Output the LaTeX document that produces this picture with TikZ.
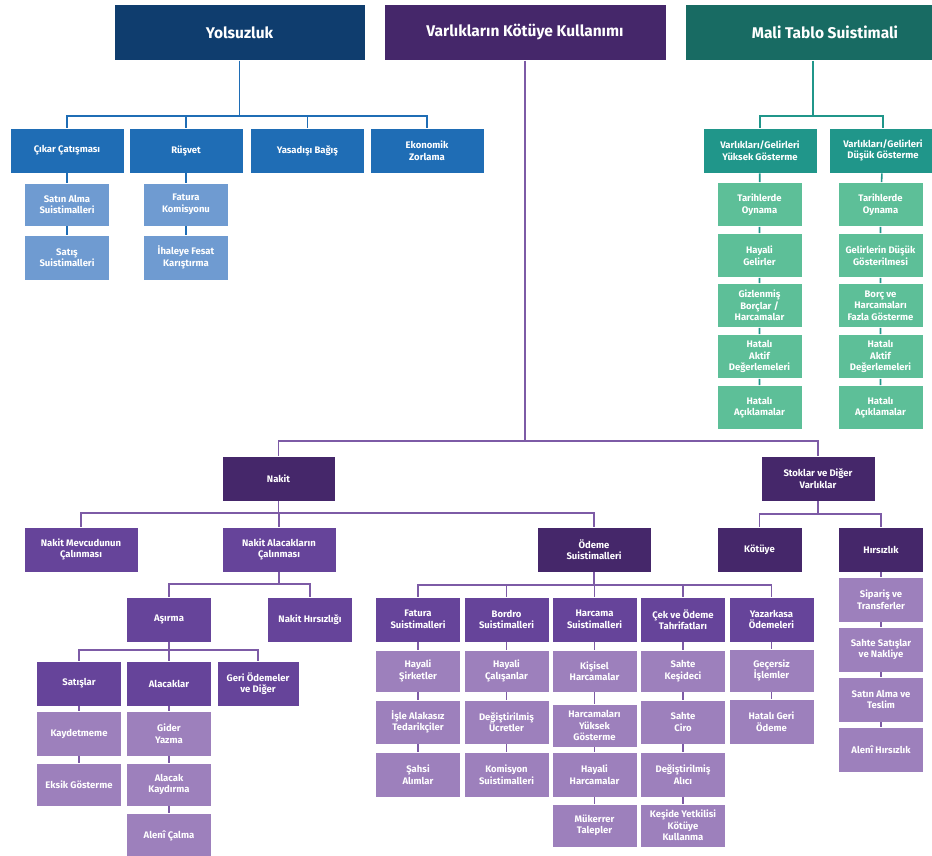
\documentclass[tikz,border=0pt]{standalone}
\usepackage{fontspec}
\setmainfont{Fira Sans}
\usetikzlibrary{positioning}
\definecolor{yolnavy}{HTML}{0F3D6E}
\definecolor{yolblue}{HTML}{1F6DB5}
\definecolor{yollight}{HTML}{6F9BD1}
\definecolor{vardark}{HTML}{45276A}
\definecolor{varmid}{HTML}{66449A}
\definecolor{varlight}{HTML}{9D80BC}
\definecolor{varline}{HTML}{7D5BA6}
\definecolor{maldark}{HTML}{186B63}
\definecolor{malteal}{HTML}{20968A}
\definecolor{malgreen}{HTML}{5DBF98}
\tikzset{
  box/.style={rectangle, draw=white, line width=0.8pt, text=white, align=center,
    inner sep=1pt, font=\bfseries\fontsize{9.5}{11.5}\selectfont},
  head/.style={box, minimum height=56pt, font=\bfseries\fontsize{15.5}{18}\selectfont},
  wide/.style={box, minimum width=114pt, minimum height=45pt},
  narrow/.style={box, minimum width=85pt, minimum height=44pt},
  link/.style={line width=1.6pt},
}
\begin{document}
\begin{tikzpicture}[x=1pt, y=-1pt]
\useasboundingbox (0,0) rectangle (932,856);
\clip (0,0) rectangle (932,856);
% the three main branches
\node[head, fill=yolnavy, minimum width=251pt] (yol) at (239.5,32.5) {Yolsuzluk};
\node[head, fill=vardark, minimum width=282pt] (var) at (525,32.5) {Varlıkların Kötüye Kullanımı};
\node[head, fill=maldark, minimum width=280pt] (mal) at (825,32.5) {Mali Tablo Suistimali};

% Yolsuzluk
\node[wide, fill=yolblue] (cikar) at (67,150.5) {Çıkar Çatışması};
\node[wide, fill=yolblue] (rusvet) at (186,150.5) {Rüşvet};
\node[wide, fill=yolblue] (bagis) at (307.5,150.5) {Yasadışı Bağış};
\node[wide, fill=yolblue] (zorlama) at (427,150.5) {Ekonomik\\Zorlama};
\node[narrow, fill=yollight, minimum height=43pt] (satinalma) at (67,204.5) {Satın Alma\\Suistimalleri};
\node[narrow, fill=yollight, minimum height=45pt] (satis) at (67,257.5) {Satış\\Suistimalleri};
\node[narrow, fill=yollight, minimum height=43pt] (fatkom) at (186,204.5) {Fatura\\Komisyonu};
\node[narrow, fill=yollight, minimum height=45pt] (ihale) at (186,257.5) {İhaleye Fesat\\Karıştırma};
\coordinate (yolbus) at (239.5,116);
\foreach \n in {cikar,rusvet,bagis,zorlama}
  \draw[link, yolblue] (yol) -- (yolbus) -| (\n);
\draw[link, yolblue] (cikar) -- (satinalma) -- (satis);
\draw[link, yolblue] (rusvet) -- (fatkom) -- (ihale);

% Mali Tablo Suistimali
\node[wide, fill=malteal] (yuksek) at (760,150.5) {Varlıkları/Gelirleri\\Yüksek Gösterme};
\node[wide, fill=malteal, minimum width=108pt] (dusuk) at (883,150.5) {Varlıkları/Gelirleri\\Düşük Gösterme};
\node[narrow, fill=malgreen] (ya) at (759.5,204.5) {Tarihlerde\\Oynama};
\node[narrow, fill=malgreen] (yb) at (759.5,255.5) {Hayali\\Gelirler};
\node[narrow, fill=malgreen] (yc) at (759.5,305.5) {Gizlenmiş\\Borçlar /\\Harcamalar};
\node[narrow, fill=malgreen] (yd) at (759.5,356.5) {Hatalı\\Aktif\\Değerlemeleri};
\node[narrow, fill=malgreen] (ye) at (759.5,407.5) {Hatalı\\Açıklamalar};
\node[narrow, fill=malgreen] (da) at (880.5,204.5) {Tarihlerde\\Oynama};
\node[narrow, fill=malgreen] (db) at (880.5,255.5) {Gelirlerin Düşük\\Gösterilmesi};
\node[narrow, fill=malgreen] (dc) at (880.5,305.5) {Borç ve\\Harcamaları\\Fazla Gösterme};
\node[narrow, fill=malgreen] (dd) at (880.5,356.5) {Hatalı\\Aktif\\Değerlemeleri};
\node[narrow, fill=malgreen] (de) at (880.5,407.5) {Hatalı\\Açıklamalar};
\coordinate (malbus) at (813,116);
\foreach \n in {yuksek,dusuk}
  \draw[link, malteal] (malbus |- mal.south) -- (malbus) -| (\n);
\draw[link, malteal] (yuksek) -- (ya) -- (yb) -- (yc) -- (yd) -- (ye);
\draw[link, malteal] (dusuk) -- (da) -- (db) -- (dc) -- (dd) -- (de);

% Varliklarin Kotuye Kullanimi
\node[box, fill=vardark, minimum width=113pt, minimum height=45pt] (nakit) at (278.5,478.5) {Nakit};
\node[wide, fill=vardark] (stoklar) at (818,478.5) {Stoklar ve Diğer\\Varlıklar};
\coordinate (varbus) at (525,441);
\foreach \n in {nakit,stoklar}
  \draw[link, varline] (var) -- (varbus) -| (\n);

% Nakit
\node[wide, fill=varmid] (mevcut) at (81,549.5) {Nakit Mevcudunun\\Çalınması};
\node[wide, fill=varmid] (alacak) at (279,549.5) {Nakit Alacakların\\Çalınması};
\node[wide, fill=vardark] (odeme) at (594,549.5) {Ödeme\\Suistimalleri};
\coordinate (nakitbus) at (278.5,513);
\foreach \n in {mevcut,alacak,odeme}
  \draw[link, varline] (nakit) -- (nakitbus) -| (\n);

\node[narrow, fill=varmid, minimum height=45pt] (asirma) at (169,619.5) {Aşırma};
\node[narrow, fill=varmid, minimum height=45pt] (nakithirs) at (310,619.5) {Nakit Hırsızlığı};
\coordinate (alacakbus) at (279,584);
\foreach \n in {asirma,nakithirs}
  \draw[link, varline] (alacak) -- (alacakbus) -| (\n);

\node[narrow, fill=varmid, minimum height=45pt] (satislar) at (79,683.5) {Satışlar};
\node[narrow, fill=varmid, minimum height=45pt] (alacaklar) at (169,683.5) {Alacaklar};
\node[narrow, fill=varmid, minimum height=45pt, minimum width=82pt] (geri) at (258,683.5) {Geri Ödemeler\\ve Diğer};
\coordinate (asirmabus) at (169,650);
\foreach \n in {satislar,alacaklar,geri}
  \draw[link, varline] (asirma) -- (asirmabus) -| (\n);

\node[narrow, fill=varlight, minimum height=45pt] (kaydetmeme) at (79,733.5) {Kaydetmeme};
\node[narrow, fill=varlight, minimum height=43pt] (eksik) at (79,784.5) {Eksik Gösterme};
\node[narrow, fill=varlight, minimum height=45pt] (gider) at (169,733.5) {Gider\\Yazma};
\node[narrow, fill=varlight, minimum height=43pt] (kaydirma) at (169,784.5) {Alacak\\Kaydırma};
\node[narrow, fill=varlight, minimum height=46pt] (aleni) at (169,836) {Alenî Çalma};
\draw[link, varline] (satislar) -- (kaydetmeme) -- (eksik);
\draw[link, varline] (alacaklar) -- (gider) -- (kaydirma) -- (aleni);

% Odeme Suistimalleri
\node[narrow, fill=varmid, minimum height=45pt] (fatura) at (418,619.5) {Fatura\\Suistimalleri};
\node[narrow, fill=varmid, minimum height=45pt] (bordro) at (506.5,619.5) {Bordro\\Suistimalleri};
\node[narrow, fill=varmid, minimum height=45pt] (harcama) at (594.5,619.5) {Harcama\\Suistimalleri};
\node[narrow, fill=varmid, minimum height=45pt] (cek) at (683,619.5) {Çek ve Ödeme\\Tahrifatları};
\node[narrow, fill=varmid, minimum height=45pt] (yazarkasa) at (771.5,619.5) {Yazarkasa\\Ödemeleri};
\coordinate (odemebus) at (594,585);
\foreach \n in {fatura,bordro,harcama,cek,yazarkasa}
  \draw[link, varline] (odeme) -- (odemebus) -| (\n);

\node[narrow, fill=varlight, minimum height=42pt] (fa) at (418,671) {Hayali\\Şirketler};
\node[narrow, fill=varlight] (fb) at (418,722) {İşle Alakasız\\Tedarikçiler};
\node[narrow, fill=varlight, minimum height=45pt] (fc) at (418,774.5) {Şahsi\\Alımlar};
\node[narrow, fill=varlight, minimum height=42pt] (ba) at (506.5,671) {Hayali\\Çalışanlar};
\node[narrow, fill=varlight] (bb) at (506.5,722) {Değiştirilmiş\\Ücretler};
\node[narrow, fill=varlight, minimum height=45pt] (bc) at (506.5,774.5) {Komisyon\\Suistimalleri};
\node[narrow, fill=varlight, minimum height=42pt] (ha) at (594.5,671) {Kişisel\\Harcamalar};
\node[narrow, fill=varlight, minimum height=43pt] (hb) at (594.5,725.5) {Harcamaları\\Yüksek\\Gösterme};
\node[narrow, fill=varlight, minimum height=45pt] (hc) at (594.5,774.5) {Hayali\\Harcamalar};
\node[narrow, fill=varlight, minimum height=43pt] (hd) at (594.5,825.5) {Mükerrer\\Talepler};
\node[narrow, fill=varlight, minimum height=42pt] (ca) at (683,671) {Sahte\\Keşideci};
\node[narrow, fill=varlight] (cb) at (683,722) {Sahte\\Ciro};
\node[narrow, fill=varlight, minimum height=45pt] (cc) at (683,774.5) {Değiştirilmiş\\Alıcı};
\node[narrow, fill=varlight, minimum height=43pt] (cd) at (683,825.5) {Keşide Yetkilisi\\Kötüye\\Kullanma};
\node[narrow, fill=varlight, minimum height=43pt] (ka) at (771.5,670.5) {Geçersiz\\İşlemler};
\node[narrow, fill=varlight, minimum height=45pt] (kb) at (771.5,721.5) {Hatalı Geri\\Ödeme};
\draw[link, varline] (fatura) -- (fa) -- (fb) -- (fc);
\draw[link, varline] (bordro) -- (ba) -- (bb) -- (bc);
\draw[link, varline] (harcama) -- (ha) -- (hb) -- (hc) -- (hd);
\draw[link, varline] (cek) -- (ca) -- (cb) -- (cc) -- (cd);
\draw[link, varline] (yazarkasa) -- (ka) -- (kb);

% Stoklar ve Diger Varliklar
\node[narrow, fill=vardark, minimum height=45pt] (kotuye) at (759.5,549.5) {Kötüye};
\node[narrow, fill=vardark, minimum height=45pt] (hirsizlik) at (881,549.5) {Hırsızlık};
\coordinate (stokbus) at (818,514);
\foreach \n in {kotuye,hirsizlik}
  \draw[link, varline] (stoklar) -- (stokbus) -| (\n);
\node[narrow, fill=varlight, minimum height=45pt] (sa) at (881,599.5) {Sipariş ve\\Transferler};
\node[narrow, fill=varlight, minimum height=45pt] (sb) at (881,649.5) {Sahte Satışlar\\ve Nakliye};
\node[narrow, fill=varlight, minimum height=45pt] (sc) at (881,699.5) {Satın Alma ve\\Teslim};
\node[narrow, fill=varlight, minimum height=45pt] (sd) at (881,749.5) {Alenî Hırsızlık};
\draw[link, varline] (hirsizlik) -- (sa) -- (sb) -- (sc) -- (sd);
\end{tikzpicture}
\end{document}
